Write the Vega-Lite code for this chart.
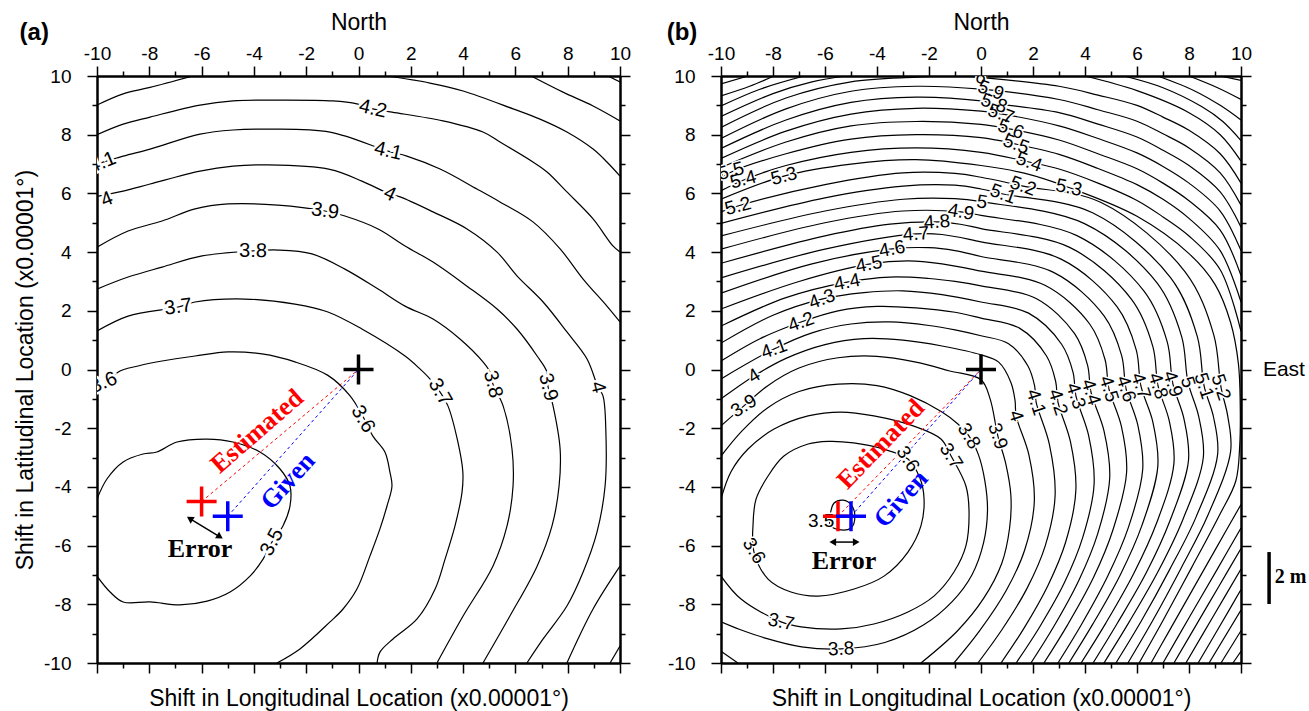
{
 "$schema": "https://vega.github.io/schema/vega-lite/v6.json",
 "background": "white",
 "padding": {"left": 14, "top": 11, "right": 4, "bottom": 0},
 "spacing": 35,
 "config": {
  "view": {"stroke": null},
  "axis": {"domainColor": "black", "domainWidth": 2, "tickColor": "black", "tickWidth": 1.5, "grid": false, "labelFont": "Liberation Sans", "labelFontSize": 19, "labelColor": "black", "titleFont": "Liberation Sans", "titleFontSize": 23, "titleFontWeight": "normal", "titleColor": "black", "labelFlush": false, "labelOverlap": false, "labelExpr": "'' + datum.value"}
 },
 "datasets": {
  "contA": [
   {"c":"a35","x":-10,"y":-4.41},{"c":"a35","x":-9.62,"y":-3.73},{"c":"a35","x":-9.0,"y":-3.15},{"c":"a35","x":-8.24,"y":-2.88},{"c":"a35","x":-7.71,"y":-2.81},{"c":"a35","x":-6.94,"y":-2.47},{"c":"a35","x":-5.79,"y":-2.37},{"c":"a35","x":-4.8,"y":-2.47},{"c":"a35","x":-3.77,"y":-2.81},{"c":"a35","x":-3.0,"y":-3.39},{"c":"a35","x":-2.62,"y":-3.97},{"c":"a35","x":-2.62,"y":-4.65},{"c":"a35","x":-2.89,"y":-5.33},{"c":"a35","x":-3.31,"y":-5.88},{"c":"a35","x":-3.65,"y":-6.46},{"c":"a35","x":-4.15,"y":-7.04},{"c":"a35","x":-4.91,"y":-7.58},{"c":"a35","x":-5.79,"y":-7.89},{"c":"a35","x":-6.83,"y":-8.02},{"c":"a35","x":-7.97,"y":-7.92},{"c":"a35","x":-9.0,"y":-7.92},{"c":"a35","x":-9.5,"y":-7.58},{"c":"a35","x":-10,"y":-7.04},
   {"c":"a36","x":-10,"y":-0.85},{"c":"a36","x":-9.2,"y":-0.09},{"c":"a36","x":-8.43,"y":0.12},{"c":"a36","x":-7.51,"y":0.29},{"c":"a36","x":-6.25,"y":0.46},{"c":"a36","x":-4.99,"y":0.6},{"c":"a36","x":-3.69,"y":0.53},{"c":"a36","x":-2.43,"y":0.26},{"c":"a36","x":-1.17,"y":-0.2},{"c":"a36","x":-0.33,"y":-0.89},{"c":"a36","x":0.17,"y":-1.6},{"c":"a36","x":0.55,"y":-2.27},{"c":"a36","x":1.01,"y":-2.81},{"c":"a36","x":1.2,"y":-3.49},{"c":"a36","x":1.28,"y":-3.97},{"c":"a36","x":1.09,"y":-4.65},{"c":"a36","x":0.82,"y":-5.43},{"c":"a36","x":0.44,"y":-6.35},{"c":"a36","x":-0.06,"y":-7.48},{"c":"a36","x":-0.59,"y":-8.16},{"c":"a36","x":-1.09,"y":-8.6},{"c":"a36","x":-2.24,"y":-9.52},{"c":"a36","x":-3.12,"y":-10},
   {"c":"a37","x":-10,"y":1.31},{"c":"a37","x":-8.81,"y":1.82},{"c":"a37","x":-6.9,"y":2.13},{"c":"a37","x":-6.25,"y":2.3},{"c":"a37","x":-4.34,"y":2.4},{"c":"a37","x":-2.43,"y":2.23},{"c":"a37","x":-1.17,"y":1.96},{"c":"a37","x":0.13,"y":1.38},{"c":"a37","x":1.78,"y":0.46},{"c":"a37","x":2.35,"y":0.02},{"c":"a37","x":2.73,"y":-0.32},{"c":"a37","x":3.12,"y":-0.77},{"c":"a37","x":3.42,"y":-1.24},{"c":"a37","x":3.8,"y":-2.47},{"c":"a37","x":3.99,"y":-3.49},{"c":"a37","x":3.96,"y":-4.17},{"c":"a37","x":3.69,"y":-5.33},{"c":"a37","x":3.31,"y":-6.46},{"c":"a37","x":2.93,"y":-7.48},{"c":"a37","x":2.24,"y":-8.5},{"c":"a37","x":1.32,"y":-9.18},{"c":"a37","x":0.82,"y":-9.63},{"c":"a37","x":0.71,"y":-10},
   {"c":"a38","x":-10,"y":2.74},{"c":"a38","x":-8.81,"y":3.15},{"c":"a38","x":-7.51,"y":3.49},{"c":"a38","x":-5.98,"y":3.87},{"c":"a38","x":-4.03,"y":4.04},{"c":"a38","x":-3.08,"y":4.07},{"c":"a38","x":-1.78,"y":3.94},{"c":"a38","x":-0.52,"y":3.42},{"c":"a38","x":0.75,"y":2.74},{"c":"a38","x":1.78,"y":2.16},{"c":"a38","x":2.85,"y":1.72},{"c":"a38","x":3.88,"y":1.04},{"c":"a38","x":4.76,"y":0.26},{"c":"a38","x":5.03,"y":-0.09},{"c":"a38","x":5.14,"y":-0.5},{"c":"a38","x":5.53,"y":-1.24},{"c":"a38","x":5.87,"y":-2.71},{"c":"a38","x":5.91,"y":-3.97},{"c":"a38","x":5.68,"y":-5.33},{"c":"a38","x":5.14,"y":-6.7},{"c":"a38","x":4.0,"y":-8.4},{"c":"a38","x":3.0,"y":-10},
   {"c":"a39","x":-10,"y":4.17},{"c":"a39","x":-8.81,"y":4.72},{"c":"a39","x":-7.51,"y":5.06},{"c":"a39","x":-6.25,"y":5.47},{"c":"a39","x":-4.99,"y":5.64},{"c":"a39","x":-3.08,"y":5.6},{"c":"a39","x":-1.28,"y":5.4},{"c":"a39","x":-0.52,"y":5.23},{"c":"a39","x":0.75,"y":4.79},{"c":"a39","x":1.78,"y":4.21},{"c":"a39","x":2.85,"y":3.66},{"c":"a39","x":4.15,"y":2.84},{"c":"a39","x":5.3,"y":2.06},{"c":"a39","x":6.06,"y":1.38},{"c":"a39","x":6.83,"y":0.46},{"c":"a39","x":7.21,"y":-0.09},{"c":"a39","x":7.25,"y":-0.6},{"c":"a39","x":7.44,"y":-1.24},{"c":"a39","x":7.71,"y":-2.71},{"c":"a39","x":7.67,"y":-3.97},{"c":"a39","x":7.4,"y":-5.33},{"c":"a39","x":6.83,"y":-6.7},{"c":"a39","x":5.79,"y":-8.4},{"c":"a39","x":4.76,"y":-10},
   {"c":"a40","x":-10,"y":5.9},{"c":"a40","x":-9.0,"y":6.08},{"c":"a40","x":-7.97,"y":6.32},{"c":"a40","x":-6.06,"y":6.76},{"c":"a40","x":-4.8,"y":6.93},{"c":"a40","x":-3.5,"y":6.97},{"c":"a40","x":-1.1,"y":6.82},{"c":"a40","x":0.13,"y":6.42},{"c":"a40","x":1.2,"y":5.98},{"c":"a40","x":1.59,"y":5.88},{"c":"a40","x":2.85,"y":5.37},{"c":"a40","x":4.15,"y":4.79},{"c":"a40","x":5.3,"y":4.0},{"c":"a40","x":6.06,"y":3.19},{"c":"a40","x":7.06,"y":2.3},{"c":"a40","x":7.97,"y":1.28},{"c":"a40","x":8.74,"y":0.36},{"c":"a40","x":9.16,"y":-0.6},{"c":"a40","x":9.35,"y":-0.9},{"c":"a40","x":9.46,"y":-2.13},{"c":"a40","x":9.43,"y":-3.97},{"c":"a40","x":9.12,"y":-5.54},{"c":"a40","x":8.59,"y":-6.9},{"c":"a40","x":7.97,"y":-8.06},{"c":"a40","x":7.06,"y":-9.18},{"c":"a40","x":6.44,"y":-10},
   {"c":"a41a","x":-10,"y":7.0},{"c":"a41a","x":-9.0,"y":7.27},{"c":"a41a","x":-7.97,"y":7.51},{"c":"a41a","x":-6.06,"y":8.02},{"c":"a41a","x":-4.8,"y":8.16},{"c":"a41a","x":-3.5,"y":8.19},{"c":"a41a","x":-1.09,"y":8.09},{"c":"a41a","x":1.13,"y":7.44},{"c":"a41a","x":1.85,"y":7.27},{"c":"a41a","x":3.12,"y":6.83},{"c":"a41a","x":4.53,"y":6.15},{"c":"a41a","x":5.41,"y":5.71},{"c":"a41a","x":6.67,"y":5.03},{"c":"a41a","x":7.71,"y":4.11},{"c":"a41a","x":8.59,"y":3.08},{"c":"a41a","x":9.5,"y":2.16},{"c":"a41a","x":10,"y":1.62},
   {"c":"a41b","x":10,"y":-6.7},{"c":"a41b","x":8.97,"y":-8.16},{"c":"a41b","x":7.97,"y":-10},
   {"c":"a42a","x":-10,"y":8.0},{"c":"a42a","x":-9.0,"y":8.36},{"c":"a42a","x":-7.97,"y":8.6},{"c":"a42a","x":-6.06,"y":9.01},{"c":"a42a","x":-4.8,"y":9.15},{"c":"a42a","x":-2.89,"y":9.18},{"c":"a42a","x":-0.98,"y":9.15},{"c":"a42a","x":-0.06,"y":9.05},{"c":"a42a","x":0.55,"y":8.88},{"c":"a42a","x":1.28,"y":8.77},{"c":"a42a","x":3.23,"y":8.47},{"c":"a42a","x":4.76,"y":8.09},{"c":"a42a","x":5.41,"y":7.75},{"c":"a42a","x":6.67,"y":7.07},{"c":"a42a","x":7.21,"y":6.73},{"c":"a42a","x":7.97,"y":6.05},{"c":"a42a","x":8.97,"y":5.13},{"c":"a42a","x":9.73,"y":4.21},{"c":"a42a","x":10,"y":4.0},
   {"c":"a42b","x":10,"y":-9.42},{"c":"a42b","x":9.62,"y":-10},
   {"c":"a43a","x":-10,"y":9.01},{"c":"a43a","x":-9.0,"y":9.39},{"c":"a43a","x":-7.97,"y":9.61},{"c":"a43a","x":-6.33,"y":10},
   {"c":"a43b","x":1.09,"y":10},{"c":"a43b","x":2.73,"y":9.76},{"c":"a43b","x":4.0,"y":9.49},{"c":"a43b","x":5.91,"y":8.88},{"c":"a43b","x":6.94,"y":8.53},{"c":"a43b","x":7.97,"y":8.09},{"c":"a43b","x":8.97,"y":7.51},{"c":"a43b","x":9.5,"y":7.07},{"c":"a43b","x":10,"y":6.59},
   {"c":"a44","x":6.6,"y":10},{"c":"a44","x":7.82,"y":9.45},{"c":"a44","x":8.97,"y":8.98},{"c":"a44","x":10,"y":8.47},
   {"c":"a45","x":9.54,"y":10},{"c":"a45","x":10,"y":9.8}
  ],
  "labA_m22": [{"t":"4.1","x":-9.8,"y":7.05},{"t":"4","x":-9.62,"y":5.8},{"t":"3.6","x":-9.75,"y":-0.45}],
  "labA_m8": [{"t":"3.7","x":-6.9,"y":2.13}],
  "labA_0": [{"t":"3.8","x":-4.03,"y":4.04}],
  "labA_8": [{"t":"3.9","x":-1.28,"y":5.4}],
  "labA_13": [{"t":"4.2","x":0.55,"y":8.88},{"t":"4.1","x":1.13,"y":7.44}],
  "labA_25": [{"t":"4","x":1.2,"y":5.98}],
  "labA_60": [{"t":"3.6","x":0.17,"y":-1.69},{"t":"3.7","x":3.12,"y":-0.77}],
  "labA_76": [{"t":"3.8","x":5.14,"y":-0.5},{"t":"3.9","x":7.25,"y":-0.6},{"t":"4","x":9.16,"y":-0.6}],
  "labA_m62": [{"t":"3.5","x":-3.31,"y":-5.88}],
  "dashA": [{"w":"estimated","x":-6,"y":-4.5},{"w":"estimated","x":0,"y":0},{"w":"given","x":-5,"y":-5},{"w":"given","x":0,"y":0}],
  "markA": [{"w":"estimated","x":-6,"y":-4.5},{"w":"given","x":-5,"y":-5},{"w":"origin","x":0,"y":0}],
  "arrA": [{"x":-6.45,"y":-5.08,"x2":-5.3,"y2":-5.7}],
  "headA": [{"e":"start","x":-6.45,"y":-5.08},{"e":"end","x":-5.3,"y":-5.7}],
  "estA": [{"t":"Estimated","x":-3.88,"y":-2.1}],
  "givA": [{"t":"Given","x":-2.7,"y":-3.8}],
  "errA": [{"t":"Error","x":-6.06,"y":-6.12}],
  "tagA": [{"t":"(a)","x":-12.4,"y":11.45}],
  "contB": [
   {"c":"b35","x":-5.8,"y":-4.95},{"c":"b35","x":-5.65,"y":-4.55},{"c":"b35","x":-5.3,"y":-4.45},{"c":"b35","x":-5.0,"y":-4.6},{"c":"b35","x":-4.85,"y":-5.0},{"c":"b35","x":-5.0,"y":-5.4},{"c":"b35","x":-5.5,"y":-5.45},{"c":"b35","x":-5.8,"y":-5.3},{"c":"b35","x":-5.8,"y":-4.95},
   {"c":"b36","x":-8.77,"y":-5.33},{"c":"b36","x":-8.65,"y":-4.41},{"c":"b36","x":-8.19,"y":-3.63},{"c":"b36","x":-7.58,"y":-2.95},{"c":"b36","x":-6.65,"y":-2.54},{"c":"b36","x":-5.88,"y":-2.45},{"c":"b36","x":-4.9,"y":-2.5},{"c":"b36","x":-3.8,"y":-2.7},{"c":"b36","x":-2.81,"y":-3.05},{"c":"b36","x":-2.35,"y":-3.7},{"c":"b36","x":-2.19,"y":-4.41},{"c":"b36","x":-2.31,"y":-5.33},{"c":"b36","x":-2.81,"y":-6.22},{"c":"b36","x":-3.73,"y":-7.04},{"c":"b36","x":-4.88,"y":-7.48},{"c":"b36","x":-6.27,"y":-7.72},{"c":"b36","x":-7.31,"y":-7.58},{"c":"b36","x":-8.19,"y":-7.14},{"c":"b36","x":-8.73,"y":-6.22},{"c":"b36","x":-8.77,"y":-5.33},
   {"c":"b37","x":-10,"y":-4.41},{"c":"b37","x":-9.62,"y":-3.49},{"c":"b37","x":-8.96,"y":-2.71},{"c":"b37","x":-7.96,"y":-2.03},{"c":"b37","x":-6.65,"y":-1.58},{"c":"b37","x":-5.38,"y":-1.45},{"c":"b37","x":-4.12,"y":-1.58},{"c":"b37","x":-2.58,"y":-1.93},{"c":"b37","x":-1.54,"y":-2.37},{"c":"b37","x":-1.15,"y":-2.95},{"c":"b37","x":-0.58,"y":-3.97},{"c":"b37","x":-0.46,"y":-4.86},{"c":"b37","x":-0.58,"y":-6.01},{"c":"b37","x":-1.04,"y":-6.9},{"c":"b37","x":-1.81,"y":-7.72},{"c":"b37","x":-2.81,"y":-8.26},{"c":"b37","x":-4.12,"y":-8.67},{"c":"b37","x":-5.38,"y":-8.84},{"c":"b37","x":-6.92,"y":-8.77},{"c":"b37","x":-7.69,"y":-8.6},{"c":"b37","x":-9.23,"y":-7.82},{"c":"b37","x":-10,"y":-7.04},
   {"c":"b38","x":-10,"y":-2.95},{"c":"b38","x":-9.2,"y":-2.1},{"c":"b38","x":-8.2,"y":-1.3},{"c":"b38","x":-7,"y":-0.75},{"c":"b38","x":-5.5,"y":-0.5},{"c":"b38","x":-4,"y":-0.55},{"c":"b38","x":-2.7,"y":-0.9},{"c":"b38","x":-1.5,"y":-1.45},{"c":"b38","x":-0.9,"y":-1.85},{"c":"b38","x":-0.46,"y":-2.27},{"c":"b38","x":-0.1,"y":-2.9},{"c":"b38","x":0.15,"y":-3.8},{"c":"b38","x":0.25,"y":-4.8},{"c":"b38","x":0.1,"y":-5.9},{"c":"b38","x":-0.35,"y":-7.0},{"c":"b38","x":-1.1,"y":-7.9},{"c":"b38","x":-2.2,"y":-8.7},{"c":"b38","x":-3.7,"y":-9.3},{"c":"b38","x":-5.38,"y":-9.52},{"c":"b38","x":-6.9,"y":-9.45},{"c":"b38","x":-8.3,"y":-9.15},{"c":"b38","x":-9.3,"y":-8.85},{"c":"b38","x":-10,"y":-8.6},
   {"c":"b39","x":-10,"y":-1.92},{"c":"b39","x":-9.12,"y":-1.24},{"c":"b39","x":-8.2,"y":-0.55},{"c":"b39","x":-7,"y":0.05},{"c":"b39","x":-5.5,"y":0.4},{"c":"b39","x":-4,"y":0.45},{"c":"b39","x":-2.5,"y":0.25},{"c":"b39","x":-1.2,"y":-0.05},{"c":"b39","x":0,"y":-0.35},{"c":"b39","x":0.35,"y":-1.0},{"c":"b39","x":0.65,"y":-2.27},{"c":"b39","x":0.95,"y":-3.2},{"c":"b39","x":1.15,"y":-4.3},{"c":"b39","x":1.1,"y":-5.4},{"c":"b39","x":0.8,"y":-6.6},{"c":"b39","x":0.1,"y":-7.8},{"c":"b39","x":-0.9,"y":-8.9},{"c":"b39","x":-2.31,"y":-10},
   {"c":"b39b","x":-10,"y":-9.6},{"c":"b39b","x":-9.35,"y":-10},
   {"c":"b40","x":-10,"y":-1.0},{"c":"b40","x":-8.73,"y":-0.22},{"c":"b40","x":-7.5,"y":0.38},{"c":"b40","x":-6,"y":0.85},{"c":"b40","x":-4.5,"y":1.05},{"c":"b40","x":-3,"y":1.0},{"c":"b40","x":-1.5,"y":0.8},{"c":"b40","x":0,"y":0.5},{"c":"b40","x":0.68,"y":0.25},{"c":"b40","x":1.15,"y":-0.44},{"c":"b40","x":1.31,"y":-1.06},{"c":"b40","x":1.35,"y":-1.58},{"c":"b40","x":1.84,"y":-2.9},{"c":"b40","x":2.05,"y":-4.5},{"c":"b40","x":1.68,"y":-6.15},{"c":"b40","x":0.97,"y":-7.53},{"c":"b40","x":-0.05,"y":-8.9},{"c":"b40","x":-1.04,"y":-10},
   {"c":"b41","x":-10,"y":-0.32},{"c":"b41","x":-7.96,"y":0.7},{"c":"b41","x":-6.5,"y":1.25},{"c":"b41","x":-5,"y":1.55},{"c":"b41","x":-3.5,"y":1.62},{"c":"b41","x":-2,"y":1.5},{"c":"b41","x":-1,"y":1.35},{"c":"b41","x":0,"y":1.15},{"c":"b41","x":1.06,"y":0.88},{"c":"b41","x":1.8,"y":0.13},{"c":"b41","x":2.06,"y":-0.55},{"c":"b41","x":2.12,"y":-1.11},{"c":"b41","x":2.63,"y":-2.55},{"c":"b41","x":2.85,"y":-4.3},{"c":"b41","x":2.47,"y":-6.01},{"c":"b41","x":1.78,"y":-7.44},{"c":"b41","x":0.81,"y":-8.86},{"c":"b41","x":-0.12,"y":-10},
   {"c":"b42","x":-10,"y":0.29},{"c":"b42","x":-8.5,"y":1.05},{"c":"b42","x":-6.92,"y":1.62},{"c":"b42","x":-5.5,"y":2.0},{"c":"b42","x":-4,"y":2.15},{"c":"b42","x":-2.5,"y":2.1},{"c":"b42","x":-1,"y":1.95},{"c":"b42","x":0,"y":1.75},{"c":"b42","x":1.48,"y":1.41},{"c":"b42","x":2.52,"y":0.46},{"c":"b42","x":2.87,"y":-0.4},{"c":"b42","x":2.96,"y":-1.11},{"c":"b42","x":3.44,"y":-2.46},{"c":"b42","x":3.65,"y":-4.1},{"c":"b42","x":3.26,"y":-5.87},{"c":"b42","x":2.58,"y":-7.35},{"c":"b42","x":1.65,"y":-8.82},{"c":"b42","x":0.77,"y":-10},
   {"c":"b43","x":-10,"y":0.9},{"c":"b43","x":-8,"y":1.85},{"c":"b43","x":-6.12,"y":2.4},{"c":"b43","x":-4.5,"y":2.62},{"c":"b43","x":-3,"y":2.68},{"c":"b43","x":-1.5,"y":2.55},{"c":"b43","x":0,"y":2.3},{"c":"b43","x":1.83,"y":1.92},{"c":"b43","x":3.1,"y":0.86},{"c":"b43","x":3.54,"y":-0.1},{"c":"b43","x":3.65,"y":-0.9},{"c":"b43","x":4.14,"y":-2.25},{"c":"b43","x":4.35,"y":-3.9},{"c":"b43","x":3.91,"y":-5.73},{"c":"b43","x":3.21,"y":-7.26},{"c":"b43","x":2.25,"y":-8.78},{"c":"b43","x":1.35,"y":-10},
   {"c":"b44","x":-10,"y":1.48},{"c":"b44","x":-7.5,"y":2.45},{"c":"b44","x":-5.15,"y":2.98},{"c":"b44","x":-3.5,"y":3.15},{"c":"b44","x":-2,"y":3.1},{"c":"b44","x":-1,"y":3.0},{"c":"b44","x":0,"y":2.85},{"c":"b44","x":2.12,"y":2.42},{"c":"b44","x":3.6,"y":1.22},{"c":"b44","x":4.1,"y":0.14},{"c":"b44","x":4.23,"y":-0.77},{"c":"b44","x":4.73,"y":-2.09},{"c":"b44","x":4.95,"y":-3.7},{"c":"b44","x":4.49,"y":-5.59},{"c":"b44","x":3.77,"y":-7.17},{"c":"b44","x":2.81,"y":-8.74},{"c":"b44","x":1.92,"y":-10},
   {"c":"b45","x":-10,"y":2.06},{"c":"b45","x":-7,"y":3.0},{"c":"b45","x":-4.31,"y":3.59},{"c":"b45","x":-2.8,"y":3.7},{"c":"b45","x":-1.5,"y":3.6},{"c":"b45","x":0,"y":3.35},{"c":"b45","x":2.46,"y":2.87},{"c":"b45","x":4.18,"y":1.55},{"c":"b45","x":4.77,"y":0.34},{"c":"b45","x":4.92,"y":-0.66},{"c":"b45","x":5.4,"y":-1.94},{"c":"b45","x":5.6,"y":-3.5},{"c":"b45","x":5.08,"y":-5.45},{"c":"b45","x":4.33,"y":-7.08},{"c":"b45","x":3.33,"y":-8.7},{"c":"b45","x":2.42,"y":-10},
   {"c":"b46","x":-10,"y":2.6},{"c":"b46","x":-6.5,"y":3.6},{"c":"b46","x":-3.42,"y":4.11},{"c":"b46","x":-2,"y":4.15},{"c":"b46","x":-1,"y":4.05},{"c":"b46","x":0,"y":3.85},{"c":"b46","x":2.79,"y":3.31},{"c":"b46","x":4.74,"y":1.82},{"c":"b46","x":5.41,"y":0.47},{"c":"b46","x":5.58,"y":-0.66},{"c":"b46","x":6.03,"y":-1.89},{"c":"b46","x":6.22,"y":-3.4},{"c":"b46","x":5.67,"y":-5.38},{"c":"b46","x":4.88,"y":-7.03},{"c":"b46","x":3.87,"y":-8.68},{"c":"b46","x":2.96,"y":-10},
   {"c":"b47","x":-10,"y":3.12},{"c":"b47","x":-6,"y":4.1},{"c":"b47","x":-2.5,"y":4.62},{"c":"b47","x":-1.5,"y":4.6},{"c":"b47","x":0,"y":4.35},{"c":"b47","x":3.08,"y":3.76},{"c":"b47","x":5.23,"y":2.14},{"c":"b47","x":5.97,"y":0.67},{"c":"b47","x":6.15,"y":-0.56},{"c":"b47","x":6.61,"y":-1.79},{"c":"b47","x":6.8,"y":-3.3},{"c":"b47","x":6.19,"y":-5.31},{"c":"b47","x":5.36,"y":-6.99},{"c":"b47","x":4.31,"y":-8.66},{"c":"b47","x":3.38,"y":-10},
   {"c":"b48","x":-10,"y":3.62},{"c":"b48","x":-6,"y":4.55},{"c":"b48","x":-3.5,"y":4.95},{"c":"b48","x":-1.69,"y":5.03},{"c":"b48","x":-0.8,"y":4.95},{"c":"b48","x":0,"y":4.8},{"c":"b48","x":3.41,"y":4.16},{"c":"b48","x":5.79,"y":2.39},{"c":"b48","x":6.61,"y":0.78},{"c":"b48","x":6.81,"y":-0.56},{"c":"b48","x":7.24,"y":-1.75},{"c":"b48","x":7.42,"y":-3.2},{"c":"b48","x":6.75,"y":-5.24},{"c":"b48","x":5.88,"y":-6.94},{"c":"b48","x":4.8,"y":-8.64},{"c":"b48","x":3.85,"y":-10},
   {"c":"b49","x":-10,"y":4.1},{"c":"b49","x":-6,"y":5.0},{"c":"b49","x":-3,"y":5.4},{"c":"b49","x":-0.77,"y":5.37},{"c":"b49","x":0,"y":5.25},{"c":"b49","x":3.69,"y":4.56},{"c":"b49","x":6.27,"y":2.67},{"c":"b49","x":7.16,"y":0.95},{"c":"b49","x":7.38,"y":-0.49},{"c":"b49","x":7.8,"y":-1.66},{"c":"b49","x":7.98,"y":-3.1},{"c":"b49","x":7.26,"y":-5.17},{"c":"b49","x":6.37,"y":-6.9},{"c":"b49","x":5.26,"y":-8.62},{"c":"b49","x":4.31,"y":-10},
   {"c":"b50","x":-10,"y":4.55},{"c":"b50","x":-6,"y":5.4},{"c":"b50","x":-3,"y":5.8},{"c":"b50","x":-1,"y":5.82},{"c":"b50","x":0.04,"y":5.71},{"c":"b50","x":3.98,"y":4.97},{"c":"b50","x":6.77,"y":2.95},{"c":"b50","x":7.72,"y":1.11},{"c":"b50","x":7.96,"y":-0.43},{"c":"b50","x":8.37,"y":-1.59},{"c":"b50","x":8.55,"y":-3.0},{"c":"b50","x":7.77,"y":-5.1},{"c":"b50","x":6.83,"y":-6.85},{"c":"b50","x":5.7,"y":-8.6},{"c":"b50","x":4.73,"y":-10},
   {"c":"b51","x":-10,"y":4.98},{"c":"b51","x":-6,"y":5.85},{"c":"b51","x":-3,"y":6.25},{"c":"b51","x":-1,"y":6.28},{"c":"b51","x":0,"y":6.15},{"c":"b51","x":0.85,"y":5.98},{"c":"b51","x":4.29,"y":5.34},{"c":"b51","x":7.29,"y":3.13},{"c":"b51","x":8.32,"y":1.12},{"c":"b51","x":8.58,"y":-0.56},{"c":"b51","x":8.94,"y":-1.61},{"c":"b51","x":9.1,"y":-2.9},{"c":"b51","x":8.27,"y":-5.03},{"c":"b51","x":7.26,"y":-6.81},{"c":"b51","x":6.16,"y":-8.58},{"c":"b51","x":5.19,"y":-10},
   {"c":"b52","x":-10,"y":5.37},{"c":"b52","x":-9.35,"y":5.57},{"c":"b52","x":-6,"y":6.3},{"c":"b52","x":-3,"y":6.7},{"c":"b52","x":-1,"y":6.68},{"c":"b52","x":0,"y":6.55},{"c":"b52","x":1.62,"y":6.25},{"c":"b52","x":4.62,"y":5.69},{"c":"b52","x":7.85,"y":3.33},{"c":"b52","x":8.95,"y":1.19},{"c":"b52","x":9.23,"y":-0.6},{"c":"b52","x":9.49,"y":-1.59},{"c":"b52","x":9.6,"y":-2.8},{"c":"b52","x":8.73,"y":-4.96},{"c":"b52","x":7.7,"y":-6.76},{"c":"b52","x":6.6,"y":-8.56},{"c":"b52","x":5.65,"y":-10},
   {"c":"b53","x":-10,"y":5.8},{"c":"b53","x":-7.58,"y":6.59},{"c":"b53","x":-5,"y":7.0},{"c":"b53","x":-2.5,"y":7.15},{"c":"b53","x":0,"y":6.95},{"c":"b53","x":1.7,"y":6.68},{"c":"b53","x":3.38,"y":6.2},{"c":"b53","x":6,"y":5.22},{"c":"b53","x":8,"y":3.95},{"c":"b53","x":9.0,"y":2.9},{"c":"b53","x":9.6,"y":1.6},{"c":"b53","x":9.9,"y":0.2},{"c":"b53","x":9.97,"y":-1.2},{"c":"b53","x":9.95,"y":-2.6},{"c":"b53","x":9.8,"y":-3.8},{"c":"b53","x":9.15,"y":-5.0},{"c":"b53","x":8.1,"y":-6.75},{"c":"b53","x":7.0,"y":-8.55},{"c":"b53","x":6.08,"y":-10},
   {"c":"b54","x":-10,"y":6.09},{"c":"b54","x":-9.15,"y":6.45},{"c":"b54","x":-7.5,"y":6.95},{"c":"b54","x":-5,"y":7.4},{"c":"b54","x":-2.5,"y":7.55},{"c":"b54","x":0,"y":7.4},{"c":"b54","x":1.85,"y":7.07},{"c":"b54","x":3,"y":6.83},{"c":"b54","x":4.5,"y":6.35},{"c":"b54","x":6,"y":5.76},{"c":"b54","x":7,"y":5.2},{"c":"b54","x":8,"y":4.55},{"c":"b54","x":9.2,"y":3.4},{"c":"b54","x":10,"y":1.3},
   {"c":"b54b","x":10,"y":-4.6},{"c":"b54b","x":9.1,"y":-6.0},{"c":"b54b","x":8.14,"y":-7.5},{"c":"b54b","x":7.18,"y":-9.0},{"c":"b54b","x":6.54,"y":-10},
   {"c":"b55","x":-10,"y":6.49},{"c":"b55","x":-9.62,"y":6.72},{"c":"b55","x":-7.5,"y":7.35},{"c":"b55","x":-5,"y":7.85},{"c":"b55","x":-2.5,"y":8.0},{"c":"b55","x":0,"y":7.9},{"c":"b55","x":1.35,"y":7.68},{"c":"b55","x":3,"y":7.33},{"c":"b55","x":4.5,"y":6.85},{"c":"b55","x":6,"y":6.3},{"c":"b55","x":7,"y":5.8},{"c":"b55","x":8,"y":5.15},{"c":"b55","x":9.2,"y":4.05},{"c":"b55","x":10,"y":2.3},
   {"c":"b55b","x":10,"y":-5.4},{"c":"b55b","x":9.09,"y":-6.8},{"c":"b55b","x":8.04,"y":-8.4},{"c":"b55b","x":7.0,"y":-10},
   {"c":"b56","x":-10,"y":6.88},{"c":"b56","x":-7.5,"y":7.75},{"c":"b56","x":-5,"y":8.3},{"c":"b56","x":-2.5,"y":8.45},{"c":"b56","x":0,"y":8.35},{"c":"b56","x":1.15,"y":8.19},{"c":"b56","x":3,"y":7.82},{"c":"b56","x":4.5,"y":7.35},{"c":"b56","x":6,"y":6.84},{"c":"b56","x":7,"y":6.35},{"c":"b56","x":8,"y":5.75},{"c":"b56","x":9.2,"y":4.75},{"c":"b56","x":10,"y":3.2},
   {"c":"b56b","x":10,"y":-6.1},{"c":"b56b","x":9.14,"y":-7.4},{"c":"b56b","x":8.28,"y":-8.7},{"c":"b56b","x":7.42,"y":-10},
   {"c":"b57","x":-10,"y":7.19},{"c":"b57","x":-7.5,"y":8.12},{"c":"b57","x":-5,"y":8.7},{"c":"b57","x":-2.5,"y":8.9},{"c":"b57","x":0,"y":8.8},{"c":"b57","x":0.77,"y":8.71},{"c":"b57","x":3,"y":8.3},{"c":"b57","x":4.5,"y":7.87},{"c":"b57","x":6,"y":7.38},{"c":"b57","x":7,"y":6.92},{"c":"b57","x":8,"y":6.35},{"c":"b57","x":9.2,"y":5.4},{"c":"b57","x":10,"y":4.05},
   {"c":"b57b","x":10,"y":-6.8},{"c":"b57b","x":8.94,"y":-8.4},{"c":"b57b","x":7.88,"y":-10},
   {"c":"b58","x":-10,"y":7.53},{"c":"b58","x":-7.5,"y":8.5},{"c":"b58","x":-5,"y":9.1},{"c":"b58","x":-2.5,"y":9.28},{"c":"b58","x":0,"y":9.15},{"c":"b58","x":0.5,"y":9.07},{"c":"b58","x":3,"y":8.75},{"c":"b58","x":4.5,"y":8.36},{"c":"b58","x":6,"y":7.92},{"c":"b58","x":7,"y":7.47},{"c":"b58","x":8,"y":6.95},{"c":"b58","x":9.2,"y":6.05},{"c":"b58","x":10,"y":4.85},
   {"c":"b58b","x":10,"y":-7.5},{"c":"b58b","x":9.18,"y":-8.75},{"c":"b58b","x":8.35,"y":-10},
   {"c":"b59","x":-10,"y":7.87},{"c":"b59","x":-7.5,"y":8.88},{"c":"b59","x":-5,"y":9.48},{"c":"b59","x":-2.5,"y":9.65},{"c":"b59","x":0,"y":9.55},{"c":"b59","x":3,"y":9.2},{"c":"b59","x":4.5,"y":8.85},{"c":"b59","x":6,"y":8.46},{"c":"b59","x":7,"y":8.03},{"c":"b59","x":8,"y":7.55},{"c":"b59","x":9.2,"y":6.7},{"c":"b59","x":10,"y":5.6},
   {"c":"b59b","x":10,"y":-8.2},{"c":"b59b","x":8.77,"y":-10},
   {"c":"b60","x":-10,"y":8.25},{"c":"b60","x":-7.5,"y":9.25},{"c":"b60","x":-5,"y":9.8},{"c":"b60","x":-2.5,"y":9.96},{"c":"b60","x":-1,"y":10.02},{"c":"b60","x":0,"y":9.95},{"c":"b60","x":3,"y":9.65},{"c":"b60","x":4.5,"y":9.35},{"c":"b60","x":6,"y":9.0},{"c":"b60","x":7,"y":8.6},{"c":"b60","x":8,"y":8.15},{"c":"b60","x":9.2,"y":7.35},{"c":"b60","x":10,"y":6.35},
   {"c":"b60b","x":10,"y":-8.9},{"c":"b60b","x":9.23,"y":-10},
   {"c":"b61a","x":-10,"y":8.62},{"c":"b61a","x":-8,"y":9.4},{"c":"b61a","x":-6.5,"y":9.8},{"c":"b61a","x":-5.2,"y":10},
   {"c":"b61b","x":4.0,"y":10},{"c":"b61b","x":6,"y":9.5},{"c":"b61b","x":8,"y":8.75},{"c":"b61b","x":9.2,"y":8.0},{"c":"b61b","x":10,"y":7.1},
   {"c":"b61c","x":10,"y":-9.6},{"c":"b61c","x":9.69,"y":-10},
   {"c":"b62a","x":-10,"y":8.98},{"c":"b62a","x":-8.5,"y":9.55},{"c":"b62a","x":-6.8,"y":10},
   {"c":"b62b","x":5.5,"y":10},{"c":"b62b","x":7,"y":9.6},{"c":"b62b","x":8.5,"y":8.95},{"c":"b62b","x":9.3,"y":8.45},{"c":"b62b","x":10,"y":7.8},
   {"c":"b63a","x":-10,"y":9.32},{"c":"b63a","x":-8.9,"y":9.65},{"c":"b63a","x":-7.96,"y":10},
   {"c":"b63b","x":6.8,"y":10},{"c":"b63b","x":8.2,"y":9.5},{"c":"b63b","x":9.2,"y":9.0},{"c":"b63b","x":10,"y":8.5},
   {"c":"b64a","x":-10,"y":9.73},{"c":"b64a","x":-8.96,"y":10},
   {"c":"b64b","x":8.0,"y":10},{"c":"b64b","x":9.1,"y":9.6},{"c":"b64b","x":10,"y":9.2},
   {"c":"b65b","x":9.2,"y":10},{"c":"b65b","x":10,"y":9.85}
  ],
  "labB_0": [{"t":"3.5","x":-6.15,"y":-5.15}],
  "labB_58": [{"t":"3.6","x":-2.81,"y":-3.05},{"t":"3.7","x":-1.15,"y":-2.95},{"t":"3.8","x":-0.46,"y":-2.27},{"t":"3.6","x":-8.73,"y":-6.18}],
  "labB_72": [{"t":"3.9","x":0.65,"y":-2.27},{"t":"4","x":1.35,"y":-1.58},{"t":"4.1","x":2.12,"y":-1.11},{"t":"4.2","x":2.96,"y":-1.11},{"t":"4.3","x":3.65,"y":-0.9},{"t":"4.4","x":4.23,"y":-0.77},{"t":"4.5","x":4.92,"y":-0.66},{"t":"4.6","x":5.58,"y":-0.66},{"t":"4.7","x":6.15,"y":-0.56},{"t":"4.8","x":6.81,"y":-0.56},{"t":"4.9","x":7.38,"y":-0.49},{"t":"5","x":7.96,"y":-0.43},{"t":"5.1","x":8.58,"y":-0.56},{"t":"5.2","x":9.23,"y":-0.6}],
  "labB_12": [{"t":"3.7","x":-7.69,"y":-8.6},{"t":"5.3","x":3.38,"y":6.2}],
  "labB_m3": [{"t":"3.8","x":-5.38,"y":-9.52}],
  "labB_m32": [{"t":"3.9","x":-9.12,"y":-1.24},{"t":"4","x":-8.73,"y":-0.22}],
  "labB_m20": [{"t":"4.1","x":-7.96,"y":0.7},{"t":"4.2","x":-6.92,"y":1.62},{"t":"4.3","x":-6.12,"y":2.4}],
  "labB_m11": [{"t":"4.4","x":-5.15,"y":2.98},{"t":"4.5","x":-4.31,"y":3.59},{"t":"4.6","x":-3.42,"y":4.11}],
  "labB_m4": [{"t":"4.7","x":-2.5,"y":4.62},{"t":"4.8","x":-1.69,"y":5.03}],
  "labB_10": [{"t":"4.9","x":-0.77,"y":5.37},{"t":"5","x":0.04,"y":5.71}],
  "labB_20": [{"t":"5.1","x":0.85,"y":5.98},{"t":"5.2","x":1.62,"y":6.25},{"t":"5.4","x":1.85,"y":7.07},{"t":"5.5","x":1.35,"y":7.68},{"t":"5.6","x":1.15,"y":8.19},{"t":"5.7","x":0.77,"y":8.71},{"t":"5.8","x":0.5,"y":9.07},{"t":"5.9","x":0.38,"y":9.52},{"t":"6","x":0.0,"y":9.95}],
  "labB_m15": [{"t":"5.5","x":-9.62,"y":6.76},{"t":"5.4","x":-9.15,"y":6.47},{"t":"5.3","x":-7.58,"y":6.59},{"t":"5.2","x":-9.35,"y":5.57}],
  "dashB": [{"w":"estimated","x":-5.5,"y":-5},{"w":"estimated","x":0,"y":0},{"w":"given","x":-5,"y":-5},{"w":"given","x":0,"y":0}],
  "markB": [{"w":"estimated","x":-5.5,"y":-5},{"w":"given","x":-5,"y":-5},{"w":"origin","x":0,"y":0}],
  "arrB": [{"x":-5.7,"y":-5.88,"x2":-4.8}],
  "headB": [{"e":"start","x":-5.7,"y":-5.88},{"e":"end","x":-4.8,"y":-5.88}],
  "estB": [{"t":"Estimated","x":-3.85,"y":-2.54}],
  "givB": [{"t":"Given","x":-3.08,"y":-4.41}],
  "errB": [{"t":"Error","x":-5.27,"y":-6.52}],
  "tagB": [{"t":"(b)","x":-11.5,"y":11.45}],
  "eastB": [{"t":"East","x":11.65,"y":0}],
  "barB": [{"x":11.08,"y":-6.22,"y2":-7.99}],
  "barTxtB": [{"t":"2 m","x":11.3,"y":-7.07}]
 },
 "hconcat": [
  {
   "width": 523, "height": 587,
   "resolve": {"axis": {"x": "independent", "y": "independent"}},
   "layer": [
    {"data": {"name": "contA"}, "mark": {"type": "line", "color": "black", "strokeWidth": 1.2, "clip": true, "interpolate": "catmull-rom"},
     "encoding": {
      "x": {"field": "x", "type": "quantitative", "scale": {"domain": [-10, 10], "nice": false, "zero": false}, "axis": {"orient": "top", "values": [-10,-8,-6,-4,-2,0,2,4,6,8,10], "tickSize": 10, "labelPadding": 3, "title": "North", "titlePadding": 10}},
      "y": {"field": "y", "type": "quantitative", "scale": {"domain": [-10, 10], "nice": false, "zero": false}, "axis": {"orient": "left", "values": [-10,-8,-6,-4,-2,0,2,4,6,8,10], "tickSize": 10, "labelPadding": 16, "title": "Shift in Latitudinal Location (x0.00001°)", "titlePadding": 6}},
      "detail": {"field": "c"}, "order": {"value": null}}},
    {"data": {"name": "dashA"}, "mark": {"type": "line", "strokeWidth": 1, "strokeDash": [3, 3]},
     "encoding": {
      "x": {"field": "x", "type": "quantitative", "axis": {"orient": "top", "values": [-9,-7,-5,-3,-1,1,3,5,7,9], "tickSize": 5, "labels": false, "title": null}},
      "y": {"field": "y", "type": "quantitative", "axis": {"orient": "left", "values": [-9,-7,-5,-3,-1,1,3,5,7,9], "tickSize": 5, "labels": false, "title": null}},
      "color": {"field": "w", "type": "nominal", "scale": {"domain": ["origin", "estimated", "given"], "range": ["black", "#ff0000", "#0000ff"]}, "legend": null},
      "order": {"value": null}}},
    {"data": {"name": "markA"}, "mark": {"type": "point", "shape": "M-1,0L1,0M0,-1L0,1", "size": 900, "filled": false, "strokeWidth": 3.5, "opacity": 1},
     "encoding": {
      "x": {"field": "x", "type": "quantitative", "axis": {"orient": "bottom", "values": [-10,-8,-6,-4,-2,0,2,4,6,8,10], "tickSize": 10, "labels": false, "title": "Shift in Longitudinal Location (x0.00001°)", "titlePadding": 14}},
      "y": {"field": "y", "type": "quantitative", "axis": {"orient": "right", "values": [-10,-8,-6,-4,-2,0,2,4,6,8,10], "tickSize": 10, "labels": false, "title": null}},
      "color": {"field": "w", "type": "nominal", "scale": {"domain": ["origin", "estimated", "given"], "range": ["black", "#ff0000", "#0000ff"]}, "legend": null}}},
    {"data": {"name": "arrA"}, "mark": {"type": "rule", "color": "black", "strokeWidth": 1.5},
     "encoding": {
      "x": {"field": "x", "type": "quantitative", "axis": {"orient": "bottom", "values": [-9,-7,-5,-3,-1,1,3,5,7,9], "tickSize": 5, "labels": false, "title": null}},
      "y": {"field": "y", "type": "quantitative", "axis": {"orient": "right", "values": [-9,-7,-5,-3,-1,1,3,5,7,9], "tickSize": 5, "labels": false, "title": null}},
      "x2": {"field": "x2"}, "y2": {"field": "y2"}}},
    {"data": {"name": "headA"}, "mark": {"type": "point", "filled": true, "color": "black", "size": 60, "angle": 32, "opacity": 1},
     "encoding": {
      "x": {"field": "x", "type": "quantitative", "axis": null},
      "y": {"field": "y", "type": "quantitative", "axis": null},
      "shape": {"field": "e", "type": "nominal", "scale": {"domain": ["start", "end"], "range": ["triangle-left", "triangle-right"]}, "legend": null}}},
    {"data": {"name": "labA_m22"}, "mark": {"type": "text", "angle": -22, "fontSize": 20, "font": "Liberation Sans", "color": "white", "stroke": "white", "strokeWidth": 5, "clip": true}, "encoding": {"x": {"field": "x", "type": "quantitative", "axis": null}, "y": {"field": "y", "type": "quantitative", "axis": null}, "text": {"field": "t"}}},
    {"data": {"name": "labA_m22"}, "mark": {"type": "text", "angle": -22, "fontSize": 20, "font": "Liberation Sans", "color": "black", "clip": true}, "encoding": {"x": {"field": "x", "type": "quantitative", "axis": null}, "y": {"field": "y", "type": "quantitative", "axis": null}, "text": {"field": "t"}}},
    {"data": {"name": "labA_m8"}, "mark": {"type": "text", "angle": -8, "fontSize": 20, "font": "Liberation Sans", "color": "white", "stroke": "white", "strokeWidth": 5}, "encoding": {"x": {"field": "x", "type": "quantitative", "axis": null}, "y": {"field": "y", "type": "quantitative", "axis": null}, "text": {"field": "t"}}},
    {"data": {"name": "labA_m8"}, "mark": {"type": "text", "angle": -8, "fontSize": 20, "font": "Liberation Sans", "color": "black"}, "encoding": {"x": {"field": "x", "type": "quantitative", "axis": null}, "y": {"field": "y", "type": "quantitative", "axis": null}, "text": {"field": "t"}}},
    {"data": {"name": "labA_0"}, "mark": {"type": "text", "angle": 1, "fontSize": 20, "font": "Liberation Sans", "color": "white", "stroke": "white", "strokeWidth": 5}, "encoding": {"x": {"field": "x", "type": "quantitative", "axis": null}, "y": {"field": "y", "type": "quantitative", "axis": null}, "text": {"field": "t"}}},
    {"data": {"name": "labA_0"}, "mark": {"type": "text", "angle": 1, "fontSize": 20, "font": "Liberation Sans", "color": "black"}, "encoding": {"x": {"field": "x", "type": "quantitative", "axis": null}, "y": {"field": "y", "type": "quantitative", "axis": null}, "text": {"field": "t"}}},
    {"data": {"name": "labA_8"}, "mark": {"type": "text", "angle": 8, "fontSize": 20, "font": "Liberation Sans", "color": "white", "stroke": "white", "strokeWidth": 5}, "encoding": {"x": {"field": "x", "type": "quantitative", "axis": null}, "y": {"field": "y", "type": "quantitative", "axis": null}, "text": {"field": "t"}}},
    {"data": {"name": "labA_8"}, "mark": {"type": "text", "angle": 8, "fontSize": 20, "font": "Liberation Sans", "color": "black"}, "encoding": {"x": {"field": "x", "type": "quantitative", "axis": null}, "y": {"field": "y", "type": "quantitative", "axis": null}, "text": {"field": "t"}}},
    {"data": {"name": "labA_13"}, "mark": {"type": "text", "angle": 13, "fontSize": 20, "font": "Liberation Sans", "color": "white", "stroke": "white", "strokeWidth": 5}, "encoding": {"x": {"field": "x", "type": "quantitative", "axis": null}, "y": {"field": "y", "type": "quantitative", "axis": null}, "text": {"field": "t"}}},
    {"data": {"name": "labA_13"}, "mark": {"type": "text", "angle": 13, "fontSize": 20, "font": "Liberation Sans", "color": "black"}, "encoding": {"x": {"field": "x", "type": "quantitative", "axis": null}, "y": {"field": "y", "type": "quantitative", "axis": null}, "text": {"field": "t"}}},
    {"data": {"name": "labA_25"}, "mark": {"type": "text", "angle": 25, "fontSize": 20, "font": "Liberation Sans", "color": "white", "stroke": "white", "strokeWidth": 5}, "encoding": {"x": {"field": "x", "type": "quantitative", "axis": null}, "y": {"field": "y", "type": "quantitative", "axis": null}, "text": {"field": "t"}}},
    {"data": {"name": "labA_25"}, "mark": {"type": "text", "angle": 25, "fontSize": 20, "font": "Liberation Sans", "color": "black"}, "encoding": {"x": {"field": "x", "type": "quantitative", "axis": null}, "y": {"field": "y", "type": "quantitative", "axis": null}, "text": {"field": "t"}}},
    {"data": {"name": "labA_60"}, "mark": {"type": "text", "angle": 60, "fontSize": 20, "font": "Liberation Sans", "color": "white", "stroke": "white", "strokeWidth": 5}, "encoding": {"x": {"field": "x", "type": "quantitative", "axis": null}, "y": {"field": "y", "type": "quantitative", "axis": null}, "text": {"field": "t"}}},
    {"data": {"name": "labA_60"}, "mark": {"type": "text", "angle": 60, "fontSize": 20, "font": "Liberation Sans", "color": "black"}, "encoding": {"x": {"field": "x", "type": "quantitative", "axis": null}, "y": {"field": "y", "type": "quantitative", "axis": null}, "text": {"field": "t"}}},
    {"data": {"name": "labA_76"}, "mark": {"type": "text", "angle": 76, "fontSize": 20, "font": "Liberation Sans", "color": "white", "stroke": "white", "strokeWidth": 5}, "encoding": {"x": {"field": "x", "type": "quantitative", "axis": null}, "y": {"field": "y", "type": "quantitative", "axis": null}, "text": {"field": "t"}}},
    {"data": {"name": "labA_76"}, "mark": {"type": "text", "angle": 76, "fontSize": 20, "font": "Liberation Sans", "color": "black"}, "encoding": {"x": {"field": "x", "type": "quantitative", "axis": null}, "y": {"field": "y", "type": "quantitative", "axis": null}, "text": {"field": "t"}}},
    {"data": {"name": "labA_m62"}, "mark": {"type": "text", "angle": -62, "fontSize": 20, "font": "Liberation Sans", "color": "white", "stroke": "white", "strokeWidth": 5}, "encoding": {"x": {"field": "x", "type": "quantitative", "axis": null}, "y": {"field": "y", "type": "quantitative", "axis": null}, "text": {"field": "t"}}},
    {"data": {"name": "labA_m62"}, "mark": {"type": "text", "angle": -62, "fontSize": 20, "font": "Liberation Sans", "color": "black"}, "encoding": {"x": {"field": "x", "type": "quantitative", "axis": null}, "y": {"field": "y", "type": "quantitative", "axis": null}, "text": {"field": "t"}}},
    {"data": {"name": "estA"}, "mark": {"type": "text", "angle": -41, "fontSize": 26, "font": "Liberation Serif", "fontWeight": "bold", "color": "#ff0000"}, "encoding": {"x": {"field": "x", "type": "quantitative", "axis": null}, "y": {"field": "y", "type": "quantitative", "axis": null}, "text": {"field": "t"}}},
    {"data": {"name": "givA"}, "mark": {"type": "text", "angle": -48, "fontSize": 26, "font": "Liberation Serif", "fontWeight": "bold", "color": "#0000ff"}, "encoding": {"x": {"field": "x", "type": "quantitative", "axis": null}, "y": {"field": "y", "type": "quantitative", "axis": null}, "text": {"field": "t"}}},
    {"data": {"name": "errA"}, "mark": {"type": "text", "fontSize": 26, "font": "Liberation Serif", "fontWeight": "bold", "color": "black"}, "encoding": {"x": {"field": "x", "type": "quantitative", "axis": null}, "y": {"field": "y", "type": "quantitative", "axis": null}, "text": {"field": "t"}}},
    {"data": {"name": "tagA"}, "mark": {"type": "text", "fontSize": 24, "font": "Liberation Sans", "fontWeight": "bold", "color": "black"}, "encoding": {"x": {"field": "x", "type": "quantitative", "axis": null}, "y": {"field": "y", "type": "quantitative", "axis": null}, "text": {"field": "t"}}}
   ]
  },
  {
   "width": 520, "height": 587,
   "resolve": {"axis": {"x": "independent", "y": "independent"}},
   "layer": [
    {"data": {"name": "contB"}, "mark": {"type": "line", "color": "black", "strokeWidth": 1.2, "clip": true, "interpolate": "catmull-rom"},
     "encoding": {
      "x": {"field": "x", "type": "quantitative", "scale": {"domain": [-10, 10], "nice": false, "zero": false}, "axis": {"orient": "top", "values": [-10,-8,-6,-4,-2,0,2,4,6,8,10], "tickSize": 10, "labelPadding": 3, "title": "North", "titlePadding": 10}},
      "y": {"field": "y", "type": "quantitative", "scale": {"domain": [-10, 10], "nice": false, "zero": false}, "axis": {"orient": "left", "values": [-10,-8,-6,-4,-2,0,2,4,6,8,10], "tickSize": 10, "labelPadding": 16, "title": null}},
      "detail": {"field": "c"}, "order": {"value": null}}},
    {"data": {"name": "dashB"}, "mark": {"type": "line", "strokeWidth": 1, "strokeDash": [3, 3]},
     "encoding": {
      "x": {"field": "x", "type": "quantitative", "axis": {"orient": "top", "values": [-9,-7,-5,-3,-1,1,3,5,7,9], "tickSize": 5, "labels": false, "title": null}},
      "y": {"field": "y", "type": "quantitative", "axis": {"orient": "left", "values": [-9,-7,-5,-3,-1,1,3,5,7,9], "tickSize": 5, "labels": false, "title": null}},
      "color": {"field": "w", "type": "nominal", "scale": {"domain": ["origin", "estimated", "given"], "range": ["black", "#ff0000", "#0000ff"]}, "legend": null},
      "order": {"value": null}}},
    {"data": {"name": "labB_0"}, "mark": {"type": "text", "angle": 0, "fontSize": 19, "font": "Liberation Sans", "color": "white", "stroke": "white", "strokeWidth": 3}, "encoding": {"x": {"field": "x", "type": "quantitative", "axis": null}, "y": {"field": "y", "type": "quantitative", "axis": null}, "text": {"field": "t"}}},
    {"data": {"name": "labB_0"}, "mark": {"type": "text", "angle": 0, "fontSize": 19, "font": "Liberation Sans", "color": "black"}, "encoding": {"x": {"field": "x", "type": "quantitative", "axis": null}, "y": {"field": "y", "type": "quantitative", "axis": null}, "text": {"field": "t"}}},
    {"data": {"name": "labB_58"}, "mark": {"type": "text", "angle": 58, "fontSize": 19, "font": "Liberation Sans", "color": "white", "stroke": "white", "strokeWidth": 3}, "encoding": {"x": {"field": "x", "type": "quantitative", "axis": null}, "y": {"field": "y", "type": "quantitative", "axis": null}, "text": {"field": "t"}}},
    {"data": {"name": "labB_58"}, "mark": {"type": "text", "angle": 58, "fontSize": 19, "font": "Liberation Sans", "color": "black"}, "encoding": {"x": {"field": "x", "type": "quantitative", "axis": null}, "y": {"field": "y", "type": "quantitative", "axis": null}, "text": {"field": "t"}}},
    {"data": {"name": "labB_72"}, "mark": {"type": "text", "angle": 72, "fontSize": 19, "font": "Liberation Sans", "color": "white", "stroke": "white", "strokeWidth": 3}, "encoding": {"x": {"field": "x", "type": "quantitative", "axis": null}, "y": {"field": "y", "type": "quantitative", "axis": null}, "text": {"field": "t"}}},
    {"data": {"name": "labB_72"}, "mark": {"type": "text", "angle": 72, "fontSize": 19, "font": "Liberation Sans", "color": "black"}, "encoding": {"x": {"field": "x", "type": "quantitative", "axis": null}, "y": {"field": "y", "type": "quantitative", "axis": null}, "text": {"field": "t"}}},
    {"data": {"name": "labB_12"}, "mark": {"type": "text", "angle": 12, "fontSize": 19, "font": "Liberation Sans", "color": "white", "stroke": "white", "strokeWidth": 3}, "encoding": {"x": {"field": "x", "type": "quantitative", "axis": null}, "y": {"field": "y", "type": "quantitative", "axis": null}, "text": {"field": "t"}}},
    {"data": {"name": "labB_12"}, "mark": {"type": "text", "angle": 12, "fontSize": 19, "font": "Liberation Sans", "color": "black"}, "encoding": {"x": {"field": "x", "type": "quantitative", "axis": null}, "y": {"field": "y", "type": "quantitative", "axis": null}, "text": {"field": "t"}}},
    {"data": {"name": "labB_m3"}, "mark": {"type": "text", "angle": -3, "fontSize": 19, "font": "Liberation Sans", "color": "white", "stroke": "white", "strokeWidth": 3}, "encoding": {"x": {"field": "x", "type": "quantitative", "axis": null}, "y": {"field": "y", "type": "quantitative", "axis": null}, "text": {"field": "t"}}},
    {"data": {"name": "labB_m3"}, "mark": {"type": "text", "angle": -3, "fontSize": 19, "font": "Liberation Sans", "color": "black"}, "encoding": {"x": {"field": "x", "type": "quantitative", "axis": null}, "y": {"field": "y", "type": "quantitative", "axis": null}, "text": {"field": "t"}}},
    {"data": {"name": "labB_m32"}, "mark": {"type": "text", "angle": -32, "fontSize": 19, "font": "Liberation Sans", "color": "white", "stroke": "white", "strokeWidth": 3}, "encoding": {"x": {"field": "x", "type": "quantitative", "axis": null}, "y": {"field": "y", "type": "quantitative", "axis": null}, "text": {"field": "t"}}},
    {"data": {"name": "labB_m32"}, "mark": {"type": "text", "angle": -32, "fontSize": 19, "font": "Liberation Sans", "color": "black"}, "encoding": {"x": {"field": "x", "type": "quantitative", "axis": null}, "y": {"field": "y", "type": "quantitative", "axis": null}, "text": {"field": "t"}}},
    {"data": {"name": "labB_m20"}, "mark": {"type": "text", "angle": -20, "fontSize": 19, "font": "Liberation Sans", "color": "white", "stroke": "white", "strokeWidth": 3}, "encoding": {"x": {"field": "x", "type": "quantitative", "axis": null}, "y": {"field": "y", "type": "quantitative", "axis": null}, "text": {"field": "t"}}},
    {"data": {"name": "labB_m20"}, "mark": {"type": "text", "angle": -20, "fontSize": 19, "font": "Liberation Sans", "color": "black"}, "encoding": {"x": {"field": "x", "type": "quantitative", "axis": null}, "y": {"field": "y", "type": "quantitative", "axis": null}, "text": {"field": "t"}}},
    {"data": {"name": "labB_m11"}, "mark": {"type": "text", "angle": -11, "fontSize": 19, "font": "Liberation Sans", "color": "white", "stroke": "white", "strokeWidth": 3}, "encoding": {"x": {"field": "x", "type": "quantitative", "axis": null}, "y": {"field": "y", "type": "quantitative", "axis": null}, "text": {"field": "t"}}},
    {"data": {"name": "labB_m11"}, "mark": {"type": "text", "angle": -11, "fontSize": 19, "font": "Liberation Sans", "color": "black"}, "encoding": {"x": {"field": "x", "type": "quantitative", "axis": null}, "y": {"field": "y", "type": "quantitative", "axis": null}, "text": {"field": "t"}}},
    {"data": {"name": "labB_m4"}, "mark": {"type": "text", "angle": -4, "fontSize": 19, "font": "Liberation Sans", "color": "white", "stroke": "white", "strokeWidth": 3}, "encoding": {"x": {"field": "x", "type": "quantitative", "axis": null}, "y": {"field": "y", "type": "quantitative", "axis": null}, "text": {"field": "t"}}},
    {"data": {"name": "labB_m4"}, "mark": {"type": "text", "angle": -4, "fontSize": 19, "font": "Liberation Sans", "color": "black"}, "encoding": {"x": {"field": "x", "type": "quantitative", "axis": null}, "y": {"field": "y", "type": "quantitative", "axis": null}, "text": {"field": "t"}}},
    {"data": {"name": "labB_10"}, "mark": {"type": "text", "angle": 10, "fontSize": 19, "font": "Liberation Sans", "color": "white", "stroke": "white", "strokeWidth": 3}, "encoding": {"x": {"field": "x", "type": "quantitative", "axis": null}, "y": {"field": "y", "type": "quantitative", "axis": null}, "text": {"field": "t"}}},
    {"data": {"name": "labB_10"}, "mark": {"type": "text", "angle": 10, "fontSize": 19, "font": "Liberation Sans", "color": "black"}, "encoding": {"x": {"field": "x", "type": "quantitative", "axis": null}, "y": {"field": "y", "type": "quantitative", "axis": null}, "text": {"field": "t"}}},
    {"data": {"name": "labB_20"}, "mark": {"type": "text", "angle": 20, "fontSize": 19, "font": "Liberation Sans", "color": "white", "stroke": "white", "strokeWidth": 3, "clip": true}, "encoding": {"x": {"field": "x", "type": "quantitative", "axis": null}, "y": {"field": "y", "type": "quantitative", "axis": null}, "text": {"field": "t"}}},
    {"data": {"name": "labB_20"}, "mark": {"type": "text", "angle": 20, "fontSize": 19, "font": "Liberation Sans", "color": "black", "clip": true}, "encoding": {"x": {"field": "x", "type": "quantitative", "axis": null}, "y": {"field": "y", "type": "quantitative", "axis": null}, "text": {"field": "t"}}},
    {"data": {"name": "labB_m15"}, "mark": {"type": "text", "angle": -15, "fontSize": 19, "font": "Liberation Sans", "color": "white", "stroke": "white", "strokeWidth": 3, "clip": true}, "encoding": {"x": {"field": "x", "type": "quantitative", "axis": null}, "y": {"field": "y", "type": "quantitative", "axis": null}, "text": {"field": "t"}}},
    {"data": {"name": "labB_m15"}, "mark": {"type": "text", "angle": -15, "fontSize": 19, "font": "Liberation Sans", "color": "black", "clip": true}, "encoding": {"x": {"field": "x", "type": "quantitative", "axis": null}, "y": {"field": "y", "type": "quantitative", "axis": null}, "text": {"field": "t"}}},
    {"data": {"name": "markB"}, "mark": {"type": "point", "shape": "M-1,0L1,0M0,-1L0,1", "size": 900, "filled": false, "strokeWidth": 3.5, "opacity": 1},
     "encoding": {
      "x": {"field": "x", "type": "quantitative", "axis": {"orient": "bottom", "values": [-10,-8,-6,-4,-2,0,2,4,6,8,10], "tickSize": 10, "labels": false, "title": "Shift in Longitudinal Location (x0.00001°)", "titlePadding": 14}},
      "y": {"field": "y", "type": "quantitative", "axis": {"orient": "right", "values": [-10,-8,-6,-4,-2,0,2,4,6,8,10], "tickSize": 10, "labels": false, "title": null}},
      "color": {"field": "w", "type": "nominal", "scale": {"domain": ["origin", "estimated", "given"], "range": ["black", "#ff0000", "#0000ff"]}, "legend": null}}},
    {"data": {"name": "arrB"}, "mark": {"type": "rule", "color": "black", "strokeWidth": 1.5},
     "encoding": {
      "x": {"field": "x", "type": "quantitative", "axis": {"orient": "bottom", "values": [-9,-7,-5,-3,-1,1,3,5,7,9], "tickSize": 5, "labels": false, "title": null}},
      "y": {"field": "y", "type": "quantitative", "axis": {"orient": "right", "values": [-9,-7,-5,-3,-1,1,3,5,7,9], "tickSize": 5, "labels": false, "title": null}},
      "x2": {"field": "x2"}}},
    {"data": {"name": "headB"}, "mark": {"type": "point", "filled": true, "color": "black", "size": 60, "opacity": 1},
     "encoding": {
      "x": {"field": "x", "type": "quantitative", "axis": null},
      "y": {"field": "y", "type": "quantitative", "axis": null},
      "shape": {"field": "e", "type": "nominal", "scale": {"domain": ["start", "end"], "range": ["triangle-left", "triangle-right"]}, "legend": null}}},
    {"data": {"name": "estB"}, "mark": {"type": "text", "angle": -46, "fontSize": 26, "font": "Liberation Serif", "fontWeight": "bold", "color": "#ff0000"}, "encoding": {"x": {"field": "x", "type": "quantitative", "axis": null}, "y": {"field": "y", "type": "quantitative", "axis": null}, "text": {"field": "t"}}},
    {"data": {"name": "givB"}, "mark": {"type": "text", "angle": -48, "fontSize": 26, "font": "Liberation Serif", "fontWeight": "bold", "color": "#0000ff"}, "encoding": {"x": {"field": "x", "type": "quantitative", "axis": null}, "y": {"field": "y", "type": "quantitative", "axis": null}, "text": {"field": "t"}}},
    {"data": {"name": "errB"}, "mark": {"type": "text", "fontSize": 26, "font": "Liberation Serif", "fontWeight": "bold", "color": "black"}, "encoding": {"x": {"field": "x", "type": "quantitative", "axis": null}, "y": {"field": "y", "type": "quantitative", "axis": null}, "text": {"field": "t"}}},
    {"data": {"name": "tagB"}, "mark": {"type": "text", "fontSize": 24, "font": "Liberation Sans", "fontWeight": "bold", "color": "black"}, "encoding": {"x": {"field": "x", "type": "quantitative", "axis": null}, "y": {"field": "y", "type": "quantitative", "axis": null}, "text": {"field": "t"}}},
    {"data": {"name": "eastB"}, "mark": {"type": "text", "fontSize": 21, "font": "Liberation Sans", "color": "black"}, "encoding": {"x": {"field": "x", "type": "quantitative", "axis": null}, "y": {"field": "y", "type": "quantitative", "axis": null}, "text": {"field": "t"}}},
    {"data": {"name": "barB"}, "mark": {"type": "rule", "color": "black", "strokeWidth": 3.5}, "encoding": {"x": {"field": "x", "type": "quantitative", "axis": null}, "y": {"field": "y", "type": "quantitative", "axis": null}, "y2": {"field": "y2"}}},
    {"data": {"name": "barTxtB"}, "mark": {"type": "text", "align": "left", "fontSize": 20, "font": "Liberation Serif", "fontWeight": "bold", "color": "black"}, "encoding": {"x": {"field": "x", "type": "quantitative", "axis": null}, "y": {"field": "y", "type": "quantitative", "axis": null}, "text": {"field": "t"}}}
   ]
  }
 ]
}
